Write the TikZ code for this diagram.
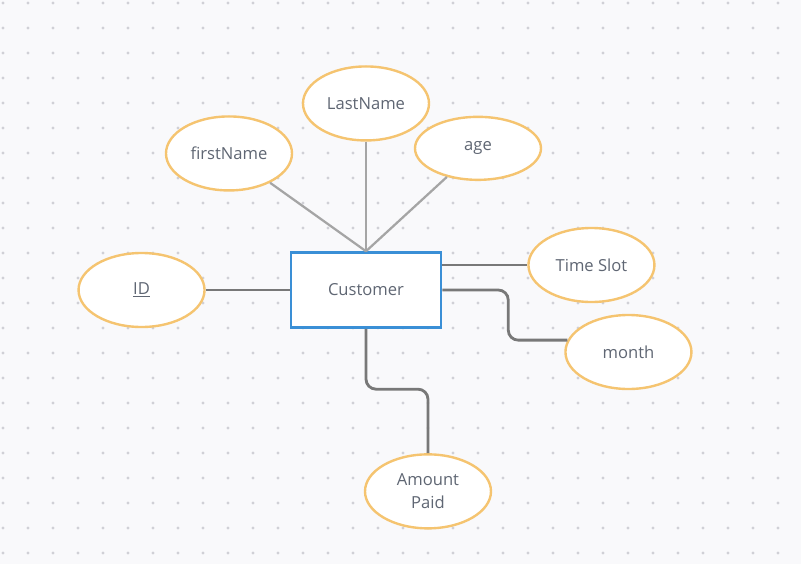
\documentclass[tikz,border=0pt]{standalone}
\usepackage{fontspec}
\setmainfont{Open Sans}
\usetikzlibrary{shapes.geometric, positioning, calc, backgrounds}
\definecolor{erblue}{RGB}{58,143,214}
\definecolor{erorange}{RGB}{245,196,112}
\definecolor{ertext}{RGB}{95,102,115}
\definecolor{erline}{RGB}{120,120,120}
\definecolor{erlightline}{RGB}{165,165,165}
\definecolor{erbg}{RGB}{249,249,251}
\definecolor{erdot}{RGB}{208,208,214}

\begin{document}
\begin{tikzpicture}[
    every node/.style={font=\fontsize{11.8}{16.3}\selectfont, text=ertext},
    entitybox/.style={rectangle, draw=erblue, fill=white, line width=1.8pt,
        minimum width=3.75cm, minimum height=1.875cm, inner sep=0pt},
    attrbox/.style={ellipse, draw=erorange, fill=white, line width=1.7pt,
        minimum width=3.15cm, minimum height=1.85cm, inner sep=0pt,
        align=center},
    link/.style={line width=2pt, erline},
    lightlink/.style={line width=1.6pt, erlightline},
]
\useasboundingbox (-9.15,-6.85) rectangle (10.875,7.25);

% === ENTITY ===
\node[entitybox] (customer) at (0,0) {Customer};

% === ATTRIBUTES ===
\node[attrbox, left=2.1cm of customer] (id) {\underline{ID}};
\node[attrbox, above=1.49cm of customer, xshift=-3.425cm] (firstname) {firstName};
\node[attrbox, above=2.74cm of customer] (lastname) {LastName};
\node[attrbox, above=1.755cm of customer, xshift=2.8cm,
      minimum height=1.575cm] (age) {age};
\node[attrbox, right=2.125cm of customer, yshift=0.625cm] (timeslot) {Time Slot};
\node[attrbox, right=3.05cm of customer, yshift=-1.55cm] (month) {month};
\node[attrbox, below=3.11cm of customer, xshift=1.55cm] (amount) {Amount\\Paid};

% Bend point for month connector
\coordinate (monthbend) at ($(customer.east)+(1.65,0)$);

% === CONNECTORS ===
% Name attributes meet at the top
\draw[lightlink] (firstname) -- (customer.north);
\draw[lightlink] (lastname) -- (customer.north);
\draw[lightlink] (age) -- (customer.north);

% Side and bottom attributes
\draw[link] (id) -- (customer);
\draw[link] (timeslot.west -| customer.east) -- (timeslot.west);
\draw[link, rounded corners=0.25cm] (customer.east) -- (monthbend) |- (month.169);
\draw[link, rounded corners=0.25cm] (customer.south) -- ++(0,-1.51) -| (amount.north);

% Dotted canvas
\begin{scope}[on background layer]
    \fill[erbg] (-9.15,-6.85) rectangle (10.875,7.25);
    \foreach \i in {0,...,31}
        \foreach \j in {0,...,22}
            \fill[erdot] (-9.075+0.625*\i, 7.175-0.625*\j) circle (0.04cm);
\end{scope}

\end{tikzpicture}
\end{document}
